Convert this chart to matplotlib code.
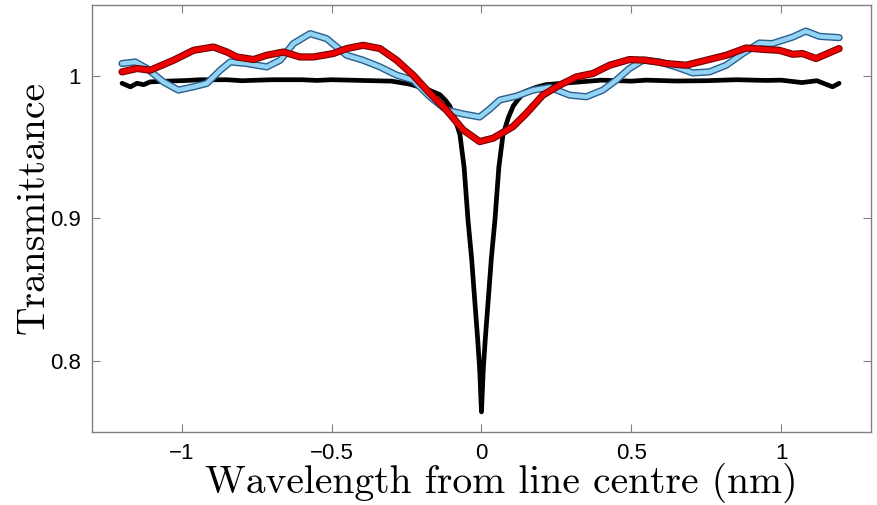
import matplotlib
matplotlib.use('Agg')
import matplotlib.pyplot as plt

# black: reference line profile
x_negro = [-1.200, -1.172, -1.150, -1.128, -1.106, -1.050, -0.980, -0.940, -0.850, -0.800,
           -0.700, -0.600, -0.550, -0.500, -0.400, -0.300, -0.240, -0.200, -0.172, -0.139,
           -0.120, -0.106, -0.090, -0.072, -0.058, -0.045, -0.033, -0.022, -0.013, -0.006,
           0.000,
           0.006, 0.013, 0.022, 0.033, 0.045, 0.058, 0.072, 0.090, 0.106, 0.120,
           0.144, 0.180, 0.214, 0.270, 0.330, 0.400, 0.500, 0.550, 0.650, 0.750,
           0.850, 0.950, 1.000, 1.070, 1.120, 1.172, 1.194]
y_negro = [0.995, 0.9925, 0.995, 0.994, 0.996, 0.9965, 0.997, 0.9975, 0.9975, 0.9968,
           0.9975, 0.9975, 0.997, 0.9975, 0.997, 0.9965, 0.9944, 0.992, 0.990, 0.987,
           0.983, 0.979, 0.971, 0.959, 0.936, 0.899, 0.872, 0.841, 0.816, 0.794,
           0.764,
           0.794, 0.816, 0.841, 0.872, 0.899, 0.936, 0.959, 0.971, 0.979, 0.983,
           0.989, 0.992, 0.994, 0.995, 0.996, 0.9972, 0.9965, 0.9972, 0.9966, 0.9968,
           0.9975, 0.997, 0.9972, 0.9955, 0.9968, 0.9925, 0.995]

# light blue
x_azul = [-1.200, -1.156, -1.117, -1.062, -1.012, -0.962, -0.917, -0.872, -0.839, -0.783,
          -0.717, -0.672, -0.628, -0.572, -0.517, -0.450, -0.395, -0.339, -0.283, -0.228,
          -0.172, -0.117, -0.061, -0.006, 0.028, 0.061, 0.117, 0.172, 0.228, 0.294,
          0.350, 0.405, 0.450, 0.494, 0.539, 0.594, 0.650, 0.705, 0.761, 0.817,
          0.872, 0.928, 0.971, 1.039, 1.083, 1.128, 1.194]
y_azul = [1.0089, 1.0100, 1.0054, 0.9960, 0.9902, 0.9925, 0.9949, 1.0042, 1.0100, 1.0089,
          1.0065, 1.0112, 1.0229, 1.0299, 1.0264, 1.0147, 1.0112, 1.0065, 1.0007, 0.9972,
          0.9855, 0.9762, 0.9734, 0.9713, 0.9769, 0.9832, 0.9860, 0.9902, 0.9921, 0.9867,
          0.9855, 0.9902, 0.9972, 1.0054, 1.0112, 1.0100, 1.0065, 1.0023, 1.0030, 1.0077,
          1.0159, 1.0233, 1.0229, 1.0275, 1.0317, 1.0280, 1.0271]

# red
x_rojo = [-1.200, -1.150, -1.106, -1.028, -0.961, -0.895, -0.850, -0.817, -0.761, -0.717,
          -0.661, -0.606, -0.561, -0.495, -0.450, -0.395, -0.339, -0.283, -0.228, -0.172,
          -0.117, -0.061, -0.006, 0.039, 0.105, 0.150, 0.205, 0.261, 0.317, 0.372,
          0.428, 0.494, 0.550, 0.617, 0.683, 0.750, 0.817, 0.883, 0.950, 0.994,
          1.039, 1.072, 1.117, 1.150, 1.194]
y_rojo = [1.0030, 1.0054, 1.0042, 1.0112, 1.0182, 1.0205, 1.0170, 1.0135, 1.0117, 1.0147,
          1.0170, 1.0135, 1.0135, 1.0159, 1.0194, 1.0217, 1.0194, 1.0112, 1.0007, 0.9879,
          0.9762, 0.9622, 0.9540, 0.9564, 0.9645, 0.9739, 0.9867, 0.9937, 0.9995, 1.0019,
          1.0077, 1.0117, 1.0112, 1.0089, 1.0077, 1.0112, 1.0147, 1.0198, 1.0187, 1.0182,
          1.0154, 1.0159, 1.0124, 1.0154, 1.0194]

xticks = [-1, -0.5, 0, 0.5, 1]
xtick_labels = ['\u22121', '\u22120.5', '0', '0.5', '1']
yticks = [0.8, 0.9, 1.0]
ytick_labels = ['0.8', '0.9', '1']

fig = plt.figure(figsize=(8.77, 5.05), dpi=100)
ax = fig.add_axes([0.105, 0.145, 0.888, 0.845])

estilo = dict(solid_capstyle='round', solid_joinstyle='round')
ax.plot(x_negro, y_negro, color='black', lw=3.4, zorder=2, **estilo)
ax.plot(x_azul, y_azul, color='#2b5f8e', lw=5.2, zorder=3, **estilo)
ax.plot(x_azul, y_azul, color='#93d3f3', lw=3.2, zorder=3, **estilo)
ax.plot(x_rojo, y_rojo, color='#6e0000', lw=5.2, zorder=4, **estilo)
ax.plot(x_rojo, y_rojo, color='#ee0000', lw=3.7, zorder=4, **estilo)

ax.set_xlim(-1.3, 1.3)
ax.set_ylim(0.75, 1.05)
ax.set_xticks(xticks)
ax.set_xticklabels(xtick_labels, family='Liberation Sans', fontsize=16)
ax.set_yticks(yticks)
ax.set_yticklabels(ytick_labels, family='Liberation Sans', fontsize=16)
ax.tick_params(direction='in', length=6, width=0.8, color='#808080',
               top=True, right=True, pad=8)
for s in ax.spines.values():
    s.set_color('#808080')
    s.set_linewidth(1.0)

ax.set_xlabel('Wavelength from line centre (nm)', family='cmr10', fontsize=28.5)
ax.set_ylabel('Transmittance', family='cmr10', fontsize=28.5)
ax.xaxis.set_label_coords(0.526, -0.072)
ax.yaxis.set_label_coords(-0.052, 0.525)

fig.savefig('out.png', dpi=100)
